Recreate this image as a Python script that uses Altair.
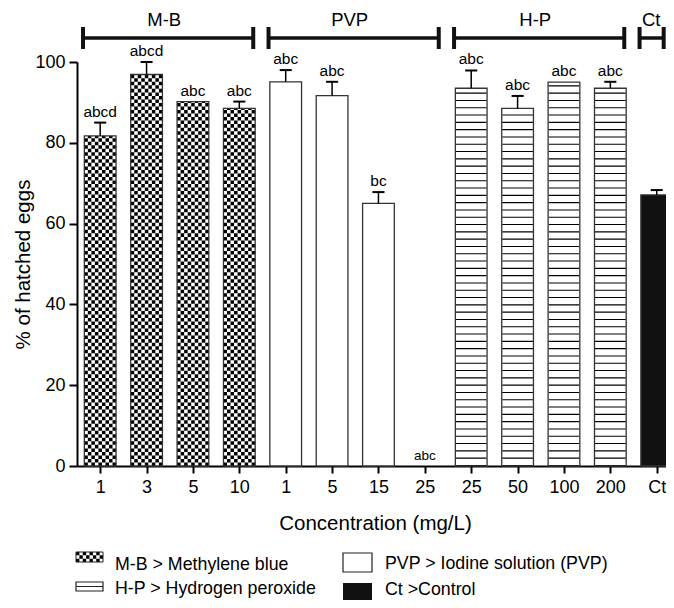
import json
import altair as alt
import pandas as pd

# ---------------- data ----------------
groups = ["M-B"] * 4 + ["PVP"] * 4 + ["H-P"] * 4 + ["Ct"]
tick_labels = ["1", "3", "5", "10", "1", "5", "15", "25", "25", "50", "100", "200", "Ct"]
hatch_pct = [81.7, 96.9, 90.2, 88.5, 95.1, 91.7, 65.0, 0.0, 93.5, 88.5, 95.0, 93.5, 67.1]
sem = [3.3, 3.1, 0.0, 1.7, 2.9, 3.4, 2.8, 0.0, 4.4, 3.1, 0.0, 1.6, 1.2]
letters = ["abcd", "abcd", "abc", "abc", "abc", "abc", "bc", "abc", "abc", "abc", "abc", "abc", ""]

group_names = ["M-B", "PVP", "H-P", "Ct"]
legend_labels = ["M-B > Methylene blue", "H-P > Hydrogen peroxide",
                 "PVP > Iodine solution (PVP)", "Ct >Control"]

# ---------------- layout constants ----------------
W, H = 589, 404
X_LO, X_HI = -0.5, 12.2
STEP_PX = W / (X_HI - X_LO)
BAR_HALF = 0.342
BAR_PX = 2 * BAR_HALF * STEP_PX
N_COLS = 9
CELL_PX = BAR_PX / N_COLS
CELL_IDX = 2 * BAR_HALF / N_COLS
FONT = "Liberation Sans"

df = pd.DataFrame({
    "idx": list(range(len(tick_labels))),
    "group": groups,
    "label": tick_labels,
    "value": hatch_pct,
    "err": sem,
    "letters": letters,
})
df["top"] = df["value"] + df["err"]
df["zero"] = 0.0

# checkerboard columns for the M-B bars
rows = []
for _, r in df[df["group"] == "M-B"].iterrows():
    for k in range(N_COLS):
        rows.append({"xc": r["idx"] - BAR_HALF + (k + 0.5) * CELL_IDX,
                     "value": r["value"], "zero": 0.0, "parity": k % 2})
checker = pd.DataFrame(rows)

firsts = [int(df[df["group"] == g]["idx"].min()) for g in group_names]
lasts = [int(df[df["group"] == g]["idx"].max()) for g in group_names]
brackets = pd.DataFrame({"group": group_names, "first": firsts, "last": lasts})

xscale = alt.Scale(domain=[X_LO, X_HI], nice=False, zero=False)
yscale = alt.Scale(domain=[0, 100], nice=False)
XT = "Concentration (mg/L)"
YT = "% of hatched eggs"

label_expr = json.dumps(tick_labels) + "[datum.value]"

x_axis = alt.Axis(values=list(range(len(tick_labels))), labelExpr=label_expr,
                  grid=False, tickSize=7, labelPadding=5, labelOverlap=False,
                  labelFlush=False, titleX=298, titleY=57, titleBaseline="middle",
                  titleAlign="center")
y_axis = alt.Axis(values=[0, 20, 40, 60, 80, 100], grid=False, tickSize=8,
                  labelPadding=4, titleX=-54, titleY=H / 2, titleAngle=270,
                  titleAlign="center", titleBaseline="middle")


def X(field):
    return alt.X(field, type="quantitative", scale=xscale, title=XT, axis=x_axis)


def Y(field):
    return alt.Y(field, type="quantitative", scale=yscale, title=YT, axis=y_axis)


base = alt.Chart(df).transform_calculate(
    x0=f"datum.idx - {BAR_HALF}", x1=f"datum.idx + {BAR_HALF}",
    c0="datum.idx - 0.13", c1="datum.idx + 0.13")

bars_fill = base.mark_rect(strokeWidth=0).encode(
    x=X("x0"), x2="x1",
    y=Y("value"), y2="zero",
    fill=alt.Fill("group:N", scale=alt.Scale(domain=group_names,
                                              range=["white", "white", "white", "#111111"]),
                  legend=None),
)

checker_even = alt.Chart(checker).transform_filter("datum.parity == 0").mark_rule(
    color="black", strokeWidth=CELL_PX, strokeDash=[CELL_PX, CELL_PX], strokeCap="butt"
).encode(x=X("xc"), y=Y("zero"), y2="value")
checker_odd = alt.Chart(checker).transform_filter("datum.parity == 1").mark_rule(
    color="black", strokeWidth=CELL_PX, strokeDash=[CELL_PX, CELL_PX],
    strokeDashOffset=CELL_PX, strokeCap="butt"
).encode(x=X("xc"), y=Y("zero"), y2="value")

hp_lines = base.transform_filter("datum.group == 'H-P'").mark_rule(
    color="black", strokeWidth=BAR_PX - 1, strokeDash=[1.1, 6.2], strokeCap="butt"
).encode(x=X("idx"), y=Y("zero"), y2="value")

bars_outline = base.transform_filter("datum.value > 0").mark_rect(
    fillOpacity=0, stroke="#333333", strokeWidth=1.3
).encode(x=X("x0"), x2="x1", y=Y("value"), y2="zero")

err_v = base.transform_filter("datum.err > 0").mark_rule(
    color="black", strokeWidth=1.5).encode(x=X("idx"), y=Y("value"), y2="top")
err_cap = base.transform_filter("datum.err > 0").mark_rule(
    color="black", strokeWidth=2).encode(x=X("c0"), x2="c1", y=Y("top"))

sig = base.mark_text(baseline="bottom", dy=-3, font=FONT, color="black").encode(
    x=X("idx"), y=Y("top"), text="letters:N",
    size=alt.condition("datum.value > 0", alt.value(15.5), alt.value(13.5)),
)

br = alt.Chart(brackets).transform_calculate(
    start="datum.first - 0.37", end=f"min(datum.last + 0.30, {X_HI - 0.05})",
    mid="(datum.first + datum.last) / 2 - 0.12")
br_line = br.mark_rule(color="#111111", strokeWidth=3.5, strokeCap="butt").encode(
    x=X("start"), x2="end", y=alt.value(-24))
br_caps = br.transform_fold(["start", "end"], as_=["side", "pos"]).mark_rule(
    color="#111111", strokeWidth=4, strokeCap="butt").encode(
    x=X("pos"), y=alt.value(-35), y2=alt.value(-13))
br_text = br.mark_text(font=FONT, fontSize=18.5, baseline="middle", color="black").encode(
    x=X("mid"), y=alt.value(-42), text="group:N")

# ---------------- custom legend ----------------
one = pd.DataFrame({"a": [0]})
leg = []
sw = 27 / 8
for r in range(3):
    leg.append(alt.Chart(one).mark_rule(
        color="black", strokeWidth=10 / 3, strokeDash=[sw, sw],
        strokeDashOffset=(r % 2) * sw, strokeCap="butt").encode(
        x=alt.value(-1), x2=alt.value(26), y=alt.value(490 + (r + 0.5) * 10 / 3)))
leg.append(alt.Chart(one).mark_rect(fillOpacity=0, stroke="#222", strokeWidth=1).encode(
    x=alt.value(-1), x2=alt.value(26), y=alt.value(490), y2=alt.value(500)))
leg.append(alt.Chart(one).mark_rect(fill="white", stroke="#222", strokeWidth=1.2).encode(
    x=alt.value(-1), x2=alt.value(26), y=alt.value(520), y2=alt.value(529)))
leg.append(alt.Chart(one).mark_rule(color="#222", strokeWidth=1).encode(
    x=alt.value(-1), x2=alt.value(26), y=alt.value(524.5)))
leg.append(alt.Chart(one).mark_rect(fill="white", stroke="#222", strokeWidth=1.2).encode(
    x=alt.value(266), x2=alt.value(295), y=alt.value(491), y2=alt.value(510)))
leg.append(alt.Chart(one).mark_rect(fill="#111111").encode(
    x=alt.value(266), x2=alt.value(295), y=alt.value(521), y2=alt.value(538)))
text_pos = [(38, 503), (38, 527), (308, 502), (308, 528)]
for lab, (px, py) in zip(legend_labels, text_pos):
    leg.append(alt.Chart(one).mark_text(
        align="left", baseline="middle", font=FONT, fontSize=17.8, color="black").encode(
        x=alt.value(px), y=alt.value(py), text=alt.value(lab)))

chart = alt.layer(
    bars_fill, checker_even, checker_odd, hp_lines, bars_outline,
    err_v, err_cap, sig, br_line, br_caps, br_text, *leg
).properties(
    width=W, height=H,
    autosize=alt.AutoSizeParams(type="none"),
    padding={"left": 69, "top": 54, "right": 0, "bottom": 134},
).configure_view(stroke=None).configure_axis(
    domainColor="black", domainWidth=2, tickColor="black", tickWidth=2,
    labelFont=FONT, labelFontSize=18, labelColor="black",
    titleFont=FONT, titleFontSize=20.5, titleFontWeight="normal", titleColor="black",
)

chart.save("out.html", embed_options={"renderer": "svg", "actions": False})
